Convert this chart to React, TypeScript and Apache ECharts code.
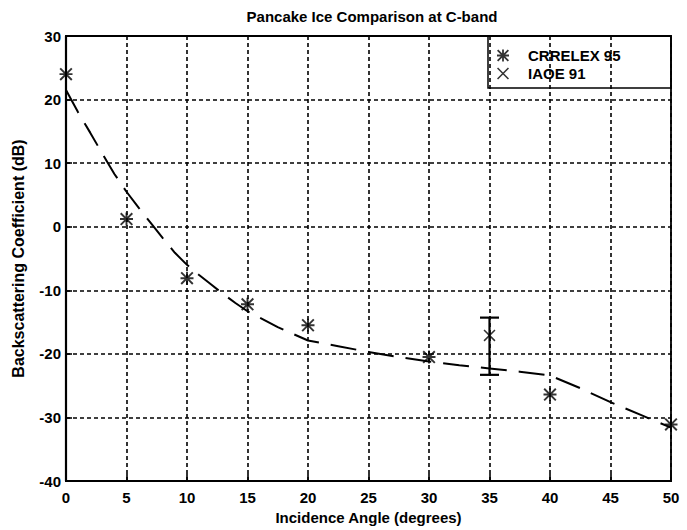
import React, { useEffect, useRef } from "react";
import * as echarts from "echarts";

const TITLE = "Pancake Ice Comparison at C-band";
const X_NAME = "Incidence Angle (degrees)";
const Y_NAME = "Backscattering Coefficient (dB)";

// CRRELEX 95 measurements (asterisks)
const crrelexAngles = [0, 5, 10, 15, 20, 30, 40, 50];
const crrelexValues = [24, 1.2, -8.1, -12.2, -15.5, -20.5, -26.4, -31.1];

// IAOE 91 measurement (x) with error bar
const iaoeAngles = [35];
const iaoeValues = [-17.1];
const iaoeLow = [-23.3];
const iaoeHigh = [-14.3];

// Model curve (dashed)
const modelAngles = [0, 1, 2, 3, 4, 5, 6, 7, 8, 9, 10, 11, 12, 13, 14, 15, 17.5, 20, 22.5, 25, 27.5, 30, 32.5, 35, 37.5, 40, 42.5, 45, 47.5, 50];
const modelValues = [21.5, 18.0, 14.8, 11.5, 8.3, 5.5, 3.0, 0.6, -1.8, -4.1, -6.0, -7.6, -9.1, -10.6, -12.0, -13.3, -15.8, -17.9, -18.8, -19.7, -20.5, -21.2, -21.8, -22.3, -22.8, -23.4, -25.4, -27.6, -29.6, -31.6];

const ASTERISK =
  "path://M8.5 0 H11.5 V20 H8.5 Z M0 8.5 H20 V11.5 H0 Z M2.1 0 L20 17.9 L17.9 20 L0 2.1 Z M17.9 0 L20 2.1 L2.1 20 L0 17.9 Z";
const CROSS =
  "path://M1.8 0 L20 18.2 L18.2 20 L0 1.8 Z M18.2 0 L20 1.8 L1.8 20 L0 18.2 Z";

const FONT = "Liberation Sans, Arial, sans-serif";

export default function App() {
  const ref = useRef<HTMLDivElement>(null);
  useEffect(() => {
    if (!ref.current) return;
    const chart = echarts.init(ref.current, null, { renderer: "svg" });
    const gridStyle = { color: "#000", width: 1.6, type: [4, 3] as number[] };
    chart.setOption({
      animation: false,
      backgroundColor: "#fff",
      textStyle: { fontFamily: FONT },
      grid: {
        left: 66,
        right: 16,
        top: 36,
        bottom: 49,
        show: true,
        borderColor: "#000",
        borderWidth: 1.8,
        backgroundColor: "transparent",
      },
      graphic: [
        {
          type: "text",
          x: 372,
          y: 16,
          style: {
            text: TITLE,
            fill: "#000",
            font: `bold 15px ${FONT}`,
            textAlign: "center",
            textVerticalAlign: "middle",
          },
        },
        {
          type: "rect",
          z: 10,
          shape: { x: 488, y: 36, width: 183, height: 52 },
          style: { fill: "none", stroke: "#000", lineWidth: 1.5 },
        },
      ],
      legend: {
        data: ["CRRELEX 95", "IAOE 91"],
        orient: "vertical",
        left: 497,
        top: 48,
        padding: 0,
        itemGap: 3,
        itemWidth: 12,
        itemHeight: 12,
        textStyle: {
          fontFamily: FONT,
          fontSize: 15,
          fontWeight: "bold",
          color: "#000",
          padding: [0, 0, 0, 14],
        },
      },
      xAxis: {
        type: "value",
        min: 0,
        max: 50,
        interval: 5,
        name: X_NAME,
        nameLocation: "middle",
        nameGap: 26,
        nameTextStyle: { fontFamily: FONT, fontSize: 15, fontWeight: "bold", color: "#000" },
        axisLine: { show: true, onZero: false, lineStyle: { color: "#000", width: 2.2 } },
        axisTick: { show: true, inside: true, length: 7, lineStyle: { color: "#000", width: 1.6 } },
        axisLabel: { fontFamily: FONT, fontSize: 15, fontWeight: "bold", color: "#000", margin: 9 },
        splitLine: { show: true, lineStyle: gridStyle },
      },
      yAxis: {
        type: "value",
        min: -40,
        max: 30,
        interval: 10,
        name: Y_NAME,
        nameLocation: "middle",
        nameGap: 40,
        nameTextStyle: { fontFamily: FONT, fontSize: 16, fontWeight: "bold", color: "#000" },
        axisLine: { show: true, onZero: false, lineStyle: { color: "#000", width: 2.2 } },
        axisTick: { show: true, inside: true, length: 6, lineStyle: { color: "#000", width: 1.6 } },
        axisLabel: { fontFamily: FONT, fontSize: 15, fontWeight: "bold", color: "#000", margin: 5 },
        splitLine: { show: true, lineStyle: gridStyle },
      },
      series: [
        {
          name: "Model",
          type: "line",
          data: modelAngles.map((a, i) => [a, modelValues[i]]),
          showSymbol: false,
          symbol: "none",
          lineStyle: { color: "#000", width: 2, type: [26, 12] },
          z: 3,
        },
        {
          name: "CRRELEX 95",
          type: "scatter",
          data: crrelexAngles.map((a, i) => [a, crrelexValues[i]]),
          symbol: ASTERISK,
          symbolSize: 13,
          itemStyle: { color: "#000" },
          clip: false,
          z: 5,
        },
        {
          name: "IAOE 91",
          type: "scatter",
          data: iaoeAngles.map((a, i) => [a, iaoeValues[i]]),
          symbol: CROSS,
          symbolSize: 12,
          itemStyle: { color: "#000" },
          clip: false,
          z: 5,
        },
        {
          name: "IAOE 91 range",
          type: "custom",
          data: iaoeAngles.map((a, i) => [a, iaoeLow[i], iaoeHigh[i]]),
          renderItem: (params: any, api: any) => {
            const x = api.value(0);
            const top = api.coord([x, api.value(2)]);
            const bot = api.coord([x, api.value(1)]);
            const hw = 9.5;
            const st = { stroke: "#000", lineWidth: 2.2 };
            return {
              type: "group",
              children: [
                { type: "line", shape: { x1: top[0], y1: top[1], x2: bot[0], y2: bot[1] }, style: st },
                { type: "line", shape: { x1: top[0] - hw, y1: top[1], x2: top[0] + hw, y2: top[1] }, style: st },
                { type: "line", shape: { x1: bot[0] - hw, y1: bot[1], x2: bot[0] + hw, y2: bot[1] }, style: st },
              ],
            };
          },
          z: 4,
        },
      ],
    });
    return () => chart.dispose();
  }, []);
  return (
    <div
      ref={ref}
      style={{ position: "fixed", left: 0, top: 0, width: 687, height: 530 }}
    />
  );
}
